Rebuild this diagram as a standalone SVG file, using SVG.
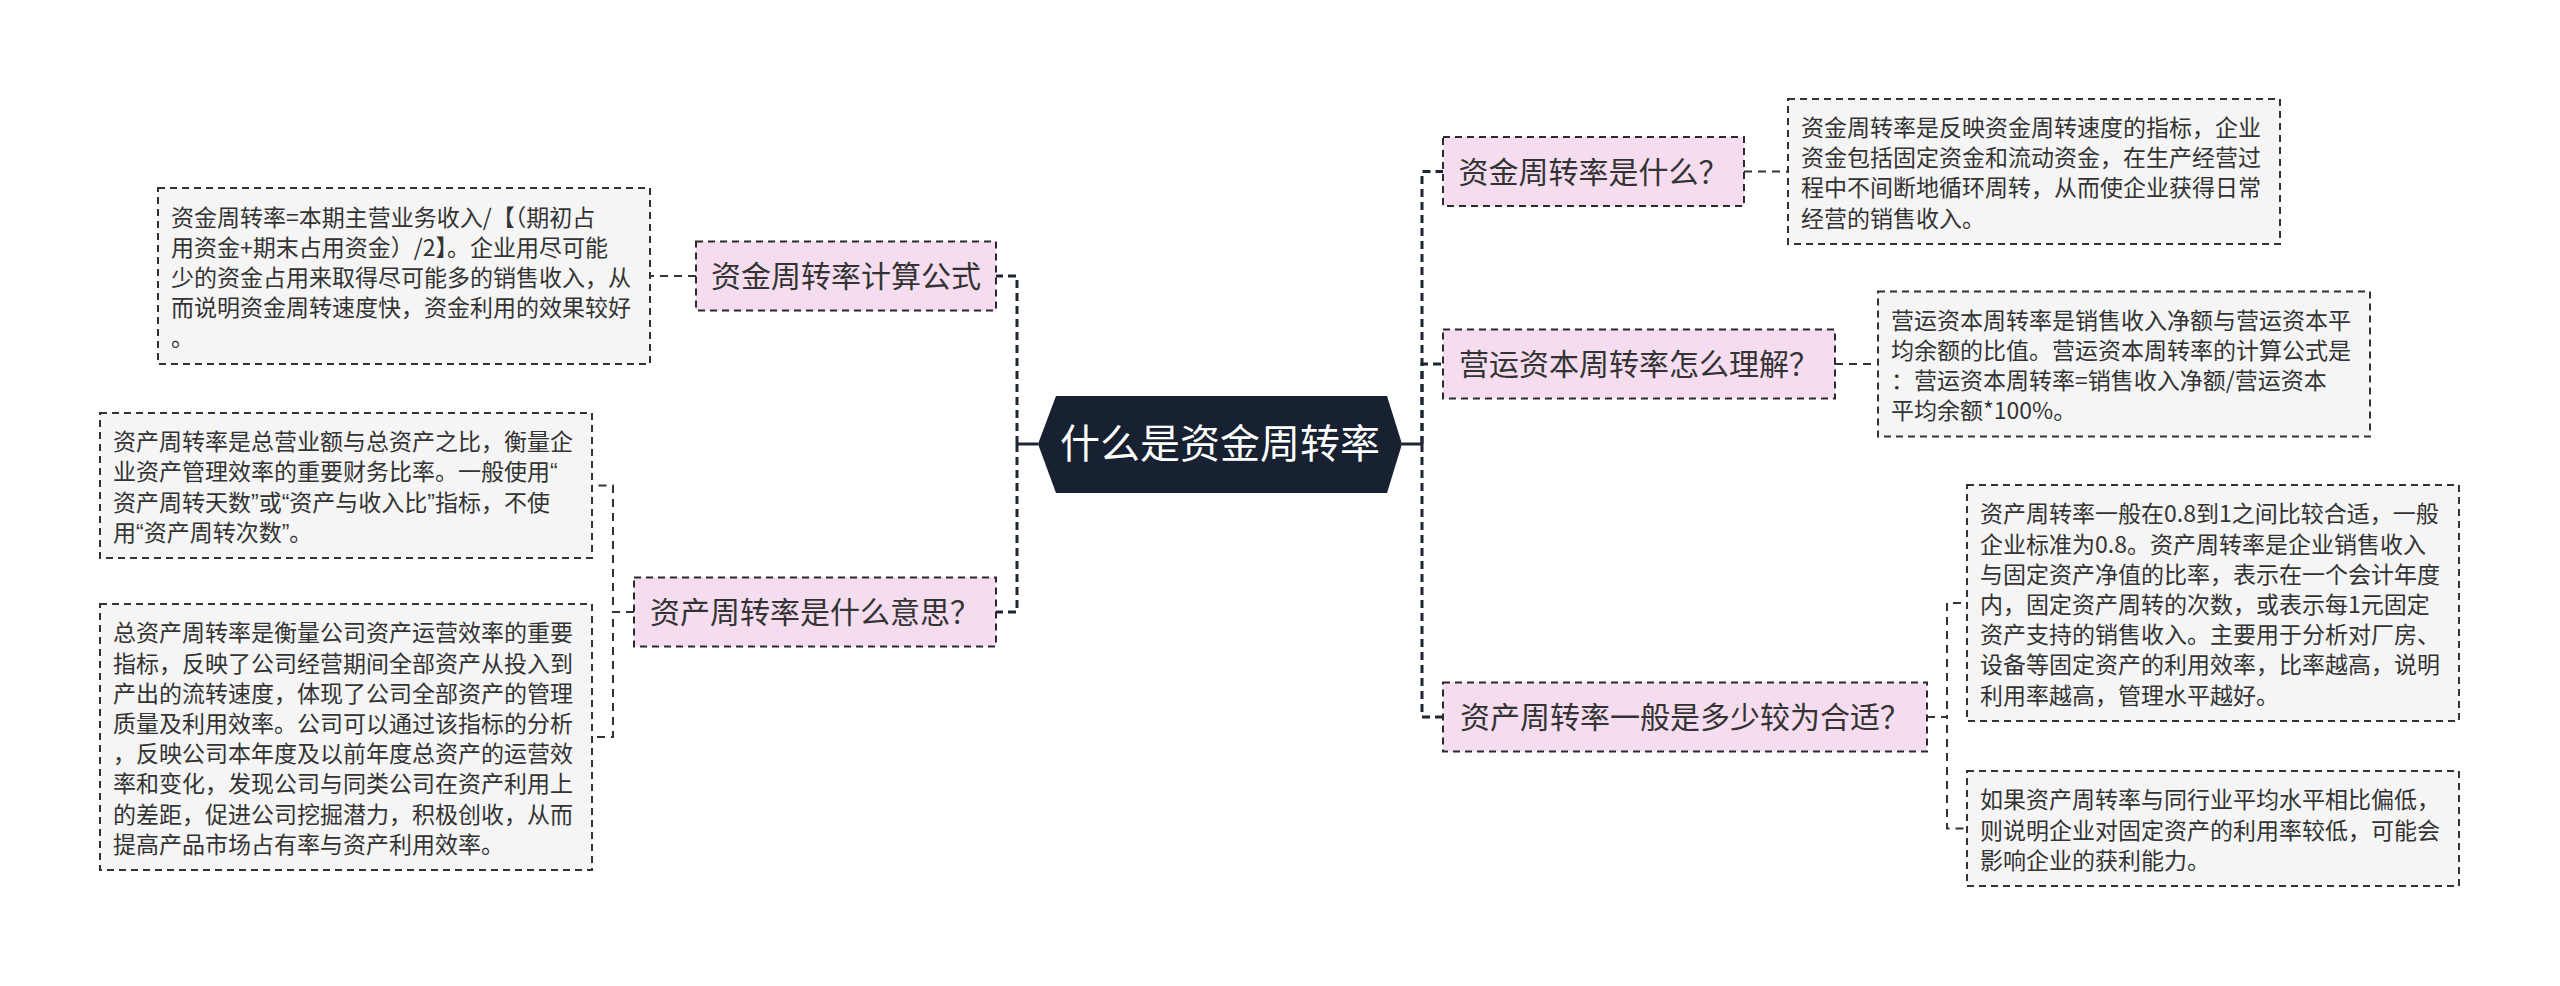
<svg xmlns="http://www.w3.org/2000/svg" width="2560" height="986" viewBox="0 0 2560 986">
<style>
text{font-family:"Noto Sans CJK SC","Noto Sans",sans-serif;}
.q{font-family:"Liberation Sans","Noto Sans",sans-serif;}
.bg{fill:#ffffff;}
.root{fill:#172131;}
.rootT{fill:#ffffff;font-size:40px;text-anchor:middle;}
.br{fill:#f5dcef;stroke:#2a2a2a;stroke-width:2;stroke-dasharray:7 5;}
.brT{fill:#333333;font-size:30px;text-anchor:middle;}
.lf{fill:#f5f5f5;stroke:#333333;stroke-width:2;stroke-dasharray:7 5;}
.lfT{fill:#333333;font-size:23px;}
.trunk{fill:none;stroke:#1e2633;stroke-width:3;stroke-dasharray:8 5;}
.solid{fill:none;stroke:#1e2633;stroke-width:3;}
.sub{fill:none;stroke:#333333;stroke-width:2;stroke-dasharray:8 6;}
</style>
<rect class="bg" x="0" y="0" width="2560" height="986"/>
<g id="connectors">
<path class="solid" d="M1402 444 H1422"/>
<path class="trunk" d="M1422 444 V171.5 H1443"/>
<path class="trunk" d="M1422 444 V364 H1443"/>
<path class="trunk" d="M1422 444 V717 H1443"/>
<path class="solid" d="M1038 444 H1017"/>
<path class="trunk" d="M1017 444 V276 H996"/>
<path class="trunk" d="M1017 444 V612 H996"/>
<path class="sub" d="M1744 171.5 H1788"/>
<path class="sub" d="M1835 364 H1878"/>
<path class="sub" d="M1927 717 H1947 V603 H1967"/>
<path class="sub" d="M1927 717 H1947 V828.5 H1967"/>
<path class="sub" d="M696 276 H650"/>
<path class="sub" d="M634 612 H613 V485.5 H592"/>
<path class="sub" d="M634 612 H613 V737 H592"/>
</g>
<g id="root">
<polygon class="root" points="1038,444 1056,396 1387,396 1402,444 1387,493 1056,493"/>
<text class="rootT" x="1220" y="458">什么是资金周转率</text>
</g>
<g id="b1">
<rect class="br" x="1443" y="137" width="301" height="69"/>
<text class="brT" x="1593.5" y="182.5">资金周转率是什么？</text>
</g>
<g id="b1c1">
<rect class="lf" x="1788" y="99" width="492" height="145"/>
<text class="lfT" x="1801" y="136"><tspan x="1801">资金周转率是反映资金周转速度的指标，企业</tspan><tspan x="1801" dy="30.2">资金包括固定资金和流动资金，在生产经营过</tspan><tspan x="1801" dy="30.2">程中不间断地循环周转，从而使企业获得日常</tspan><tspan x="1801" dy="30.2">经营的销售收入。</tspan></text>
</g>
<g id="b2">
<rect class="br" x="1443" y="329.5" width="392" height="69"/>
<text class="brT" x="1639" y="375">营运资本周转率怎么理解？</text>
</g>
<g id="b2c1">
<rect class="lf" x="1878" y="291.5" width="492" height="145"/>
<text class="lfT" x="1891" y="328.5"><tspan x="1891">营运资本周转率是销售收入净额与营运资本平</tspan><tspan x="1891" dy="30.2">均余额的比值。营运资本周转率的计算公式是</tspan><tspan x="1891" dy="30.2">：营运资本周转率=销售收入净额/营运资本</tspan><tspan x="1891" dy="30.2">平均余额*100%。</tspan></text>
</g>
<g id="b3">
<rect class="br" x="1443" y="682.5" width="484" height="69"/>
<text class="brT" x="1685" y="728">资产周转率一般是多少较为合适？</text>
</g>
<g id="b3c1">
<rect class="lf" x="1967" y="485" width="492" height="236"/>
<text class="lfT" x="1980" y="522.4"><tspan x="1980">资产周转率一般在0.8到1之间比较合适，一般</tspan><tspan x="1980" dy="30.2">企业标准为0.8。资产周转率是企业销售收入</tspan><tspan x="1980" dy="30.2">与固定资产净值的比率，表示在一个会计年度</tspan><tspan x="1980" dy="30.2">内，固定资产周转的次数，或表示每1元固定</tspan><tspan x="1980" dy="30.2">资产支持的销售收入。主要用于分析对厂房、</tspan><tspan x="1980" dy="30.2">设备等固定资产的利用效率，比率越高，说明</tspan><tspan x="1980" dy="30.2">利用率越高，管理水平越好。</tspan></text>
</g>
<g id="b3c2">
<rect class="lf" x="1967" y="771" width="492" height="115"/>
<text class="lfT" x="1980" y="808.3"><tspan x="1980">如果资产周转率与同行业平均水平相比偏低，</tspan><tspan x="1980" dy="30.2">则说明企业对固定资产的利用率较低，可能会</tspan><tspan x="1980" dy="30.2">影响企业的获利能力。</tspan></text>
</g>
<g id="b4">
<rect class="br" x="696" y="241.5" width="300" height="69"/>
<text class="brT" x="846" y="287">资金周转率计算公式</text>
</g>
<g id="b4c1">
<rect class="lf" x="158" y="188" width="492" height="176"/>
<text class="lfT" x="171" y="225.6"><tspan x="171">资金周转率=本期主营业务收入/【（期初占</tspan><tspan x="171" dy="30.2">用资金+期末占用资金）/2】。企业用尽可能</tspan><tspan x="171" dy="30.2">少的资金占用来取得尽可能多的销售收入，从</tspan><tspan x="171" dy="30.2">而说明资金周转速度快，资金利用的效果较好</tspan><tspan x="171" dy="30.2">。</tspan></text>
</g>
<g id="b5">
<rect class="br" x="634" y="577.5" width="362" height="69"/>
<text class="brT" x="815" y="623">资产周转率是什么意思？</text>
</g>
<g id="b5c1">
<rect class="lf" x="100" y="413" width="492" height="145"/>
<text class="lfT" x="113" y="450.2"><tspan x="113">资产周转率是总营业额与总资产之比，衡量企</tspan><tspan x="113" dy="30.2">业资产管理效率的重要财务比率。一般使用<tspan class="q">“</tspan></tspan><tspan x="113" dy="30.2">资产周转天数<tspan class="q">”</tspan>或<tspan class="q">“</tspan>资产与收入比<tspan class="q">”</tspan>指标，不使</tspan><tspan x="113" dy="30.2">用<tspan class="q">“</tspan>资产周转次数<tspan class="q">”</tspan>。</tspan></text>
</g>
<g id="b5c2">
<rect class="lf" x="100" y="604" width="492" height="266"/>
<text class="lfT" x="113" y="641.3"><tspan x="113">总资产周转率是衡量公司资产运营效率的重要</tspan><tspan x="113" dy="30.2">指标，反映了公司经营期间全部资产从投入到</tspan><tspan x="113" dy="30.2">产出的流转速度，体现了公司全部资产的管理</tspan><tspan x="113" dy="30.2">质量及利用效率。公司可以通过该指标的分析</tspan><tspan x="113" dy="30.2">，反映公司本年度及以前年度总资产的运营效</tspan><tspan x="113" dy="30.2">率和变化，发现公司与同类公司在资产利用上</tspan><tspan x="113" dy="30.2">的差距，促进公司挖掘潜力，积极创收，从而</tspan><tspan x="113" dy="30.2">提高产品市场占有率与资产利用效率。</tspan></text>
</g>
</svg>
